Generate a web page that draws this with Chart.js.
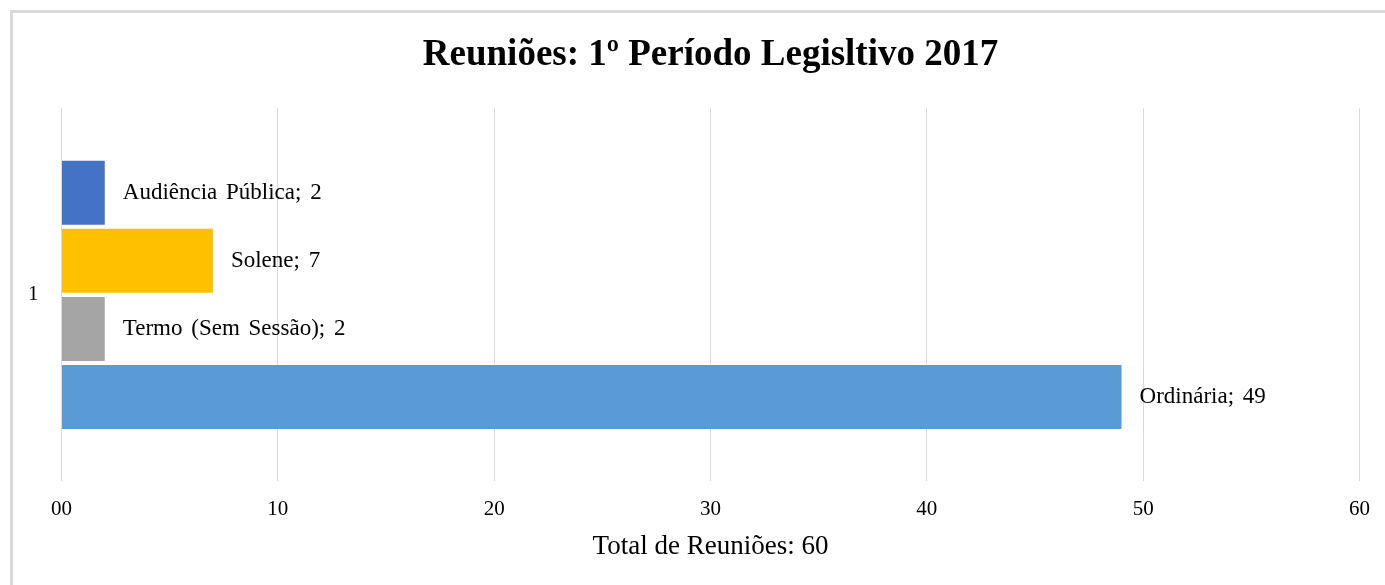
<!DOCTYPE html>
<html lang="pt">
<head>
<meta charset="utf-8">
<title>Reuniões: 1º Período Legisltivo 2017</title>
<script src="https://cdn.jsdelivr.net/npm/chart.js@4/dist/chart.umd.min.js"></script>
<style>
  html, body { margin: 0; padding: 0; background: #fff; }
  #frame {
    position: absolute; left: 10px; top: 10px;
    width: 1400px; height: 600px;
    border-left: 3px solid #d9d9d9; border-top: 3px solid #d9d9d9;
  }
  #wrap { position: absolute; left: 0; top: 0; width: 1385px; height: 585px; }
</style>
</head>
<body>
<div id="frame"></div>
<div id="wrap"><canvas id="chart"></canvas></div>
<script>
/* ---------------- DATA ---------------- */
const categories = ["1"];
const seriesNames = ["Audiência Pública", "Solene", "Termo (Sem Sessão)", "Ordinária"];
const seriesValues = [[2], [7], [2], [49]];
const seriesColors = ["#4472C4", "#FFC000", "#A5A5A5", "#5B9BD5"];
const xTicks = [0, 10, 20, 30, 40, 50, 60];

const SERIF = "'Liberation Serif', 'Times New Roman', serif";

/* --- data labels "Nome; valor" to the right of each bar --- */
const barLabels = {
  id: "barLabels",
  afterDatasetsDraw(chart) {
    const { ctx } = chart;
    ctx.save();
    ctx.font = `23px ${SERIF}`;
    ctx.wordSpacing = "3px";
    ctx.fillStyle = "#000";
    ctx.textAlign = "left";
    ctx.textBaseline = "middle";
    chart.data.datasets.forEach((ds, i) => {
      chart.getDatasetMeta(i).data.forEach((bar, j) => {
        ctx.fillText(`${ds.label}; ${ds.data[j]}`, bar.x + 18, bar.y);
      });
    });
    ctx.restore();
  }
};

new Chart(document.getElementById("chart"), {
  type: "bar",
  data: {
    labels: categories,
    datasets: seriesNames.map((name, i) => ({
      label: name,
      data: seriesValues[i],
      backgroundColor: seriesColors[i],
      borderWidth: 0,
      categoryPercentage: 0.73,
      barPercentage: 0.94
    }))
  },
  options: {
    indexAxis: "y",
    responsive: true,
    maintainAspectRatio: false,
    animation: false,
    layout: { padding: { left: 13, right: 17, top: 0, bottom: 22 } },
    plugins: {
      legend: { display: false },
      tooltip: { enabled: false },
      title: {
        display: true,
        fullSize: false,
        text: "Reuniões: 1º Período Legisltivo 2017",
        color: "#000",
        font: { family: SERIF, size: 37, weight: "bold" },
        padding: { top: 33, bottom: 31 }
      }
    },
    scales: {
      x: {
        min: 0, max: 60,
        afterBuildTicks: axis => { axis.ticks = xTicks.map(v => ({ value: v })); },
        grid: { color: "#d9d9d9", drawTicks: false },
        border: { display: false },
        ticks: {
          padding: 15,
          color: "#000",
          font: { family: SERIF, size: 21 },
          callback: v => (v === 0 ? "00" : String(v))
        },
        title: {
          display: true,
          text: "Total de Reuniões: 60",
          color: "#000",
          font: { family: SERIF, size: 27 },
          padding: { top: -6, bottom: 0 }
        }
      },
      y: {
        grid: { display: false },
        border: { display: false },
        ticks: { padding: 15, color: "#000", font: { family: SERIF, size: 21 } }
      }
    }
  },
  plugins: [barLabels]
});
</script>
</body>
</html>
